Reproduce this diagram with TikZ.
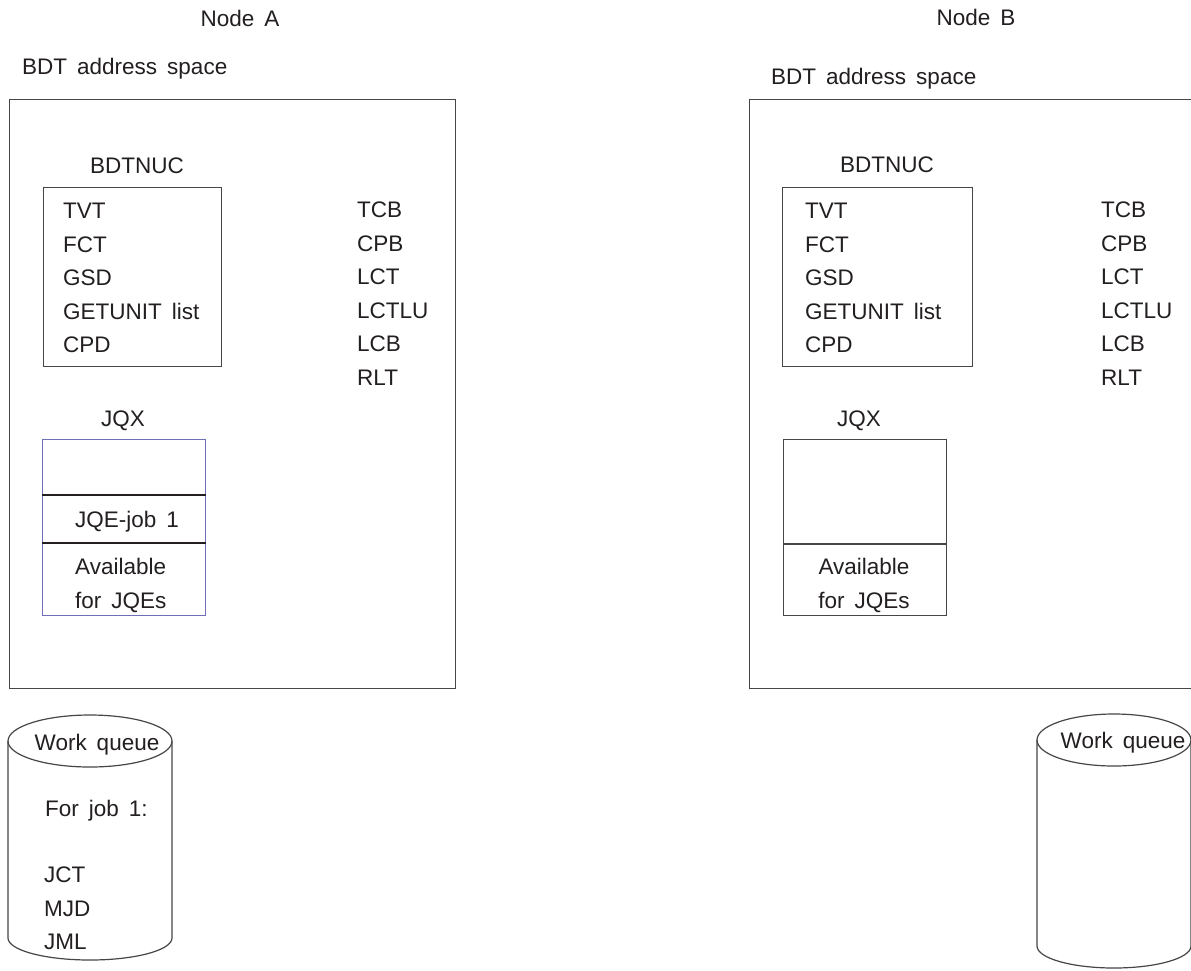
\documentclass[tikz,border=0pt]{standalone}
\usepackage{fontspec}
\setmainfont[WordSpace=1.6]{Liberation Sans}
\usepackage{tikz}
\usetikzlibrary{positioning}

\definecolor{linegray}{RGB}{70,70,70}
\definecolor{jqxblue}{RGB}{110,110,185}
\definecolor{ink}{RGB}{35,31,32}

\tikzset{
  box/.style={draw=linegray,line width=1.2pt},
  txt/.style={inner sep=0pt,text height=16pt,text depth=0pt,text=ink,
    font=\fontsize{22.5}{33.5}\selectfont},
  lst/.style={inner sep=0pt,text=ink,align=left,anchor=north west,
    font=\fontsize{22.5}{33.5}\selectfont},
}

\begin{document}
\begin{tikzpicture}[x=1pt,y=-1pt]
    \clip (0,0) rectangle (1191,970);
    \fill[white] (0,0) rectangle (1191,970);
    % node A
    \node[txt] (nodeA) at (240,18) {Node A};
    \node[txt,anchor=west] (spaceA) at (22,66) {BDT address space};
    \node[box,anchor=north west,minimum width=446,minimum height=589] (frameA) at (9,99) {};
    \node[txt] (nucA) at (137,165) {BDTNUC};
    \node[box,anchor=north west,minimum width=178,minimum height=179] (nucboxA) at (43,187) {};
    \node[lst] (listA) at (63,203) {TVT\\FCT\\GSD\\GETUNIT list\\CPD};
    \node[lst] (ctlA) at (357,202) {TCB\\CPB\\LCT\\LCTLU\\LCB\\RLT};
    \node[txt] (jqxA) at (123,418) {JQX};
    \node[draw=jqxblue,line width=1.2pt,anchor=north west,minimum width=163,minimum height=176] (jqxboxA) at (42,439) {};
    \coordinate (sepA1) at (42,495);
    \coordinate (sepA2) at (42,543);
    \draw[line width=1.2pt,ink] (sepA1) -- (sepA1 -| jqxboxA.east);
    \draw[line width=1.2pt,ink] (sepA2) -- (sepA2 -| jqxboxA.east);
    \node[txt,anchor=west] (jqeA) at (75,519) {JQE-job 1};
    \node[lst] (availA) at (75,558) {Available\\for JQEs};
    % work queue A
    \coordinate (cylA) at (90,741);
    \draw[box] (cylA) ellipse [x radius=82pt,y radius=26pt];
    \draw[box] ([xshift=-82pt]cylA) -- ++(0,197) arc[start angle=180,end angle=360,x radius=82pt,y radius=22pt] -- ++(0,-197);
    \node[txt] (wqA) at (97,742) {Work queue};
    \node[lst] (jobA) at (45,800) {For job 1:};
    \node[lst] (jctA) at (44,867) {JCT\\MJD\\JML};
    % node B
    \node[txt] (nodeB) at (976,17) {Node B};
    \node[txt,anchor=west] (spaceB) at (771,76) {BDT address space};
    \node[box,anchor=north west,minimum width=470,minimum height=589] (frameB) at (749,99) {};
    \node[txt] (nucB) at (887,164) {BDTNUC};
    \node[box,anchor=north west,minimum width=190,minimum height=179] (nucboxB) at (782,187) {};
    \node[lst] (listB) at (805,203) {TVT\\FCT\\GSD\\GETUNIT list\\CPD};
    \node[lst] (ctlB) at (1101,202) {TCB\\CPB\\LCT\\LCTLU\\LCB\\RLT};
    \node[txt] (jqxB) at (859,418) {JQX};
    \node[box,anchor=north west,minimum width=163,minimum height=176] (jqxboxB) at (783,439) {};
    \coordinate (sepB) at (783,544);
    \draw[box] (sepB) -- (sepB -| jqxboxB.east);
    \node[lst,align=center,anchor=north] (availB) at (864,558) {Available\\for JQEs};
    % work queue B
    \coordinate (cylB) at (1114,740);
    \draw[box] (cylB) ellipse [x radius=77pt,y radius=26pt];
    \draw[box] ([xshift=-77pt]cylB) -- ++(0,206) arc[start angle=180,end angle=360,x radius=77pt,y radius=22pt] -- ++(0,-206);
    \node[txt] (wqB) at (1123,740) {Work queue};
\end{tikzpicture}
\end{document}
